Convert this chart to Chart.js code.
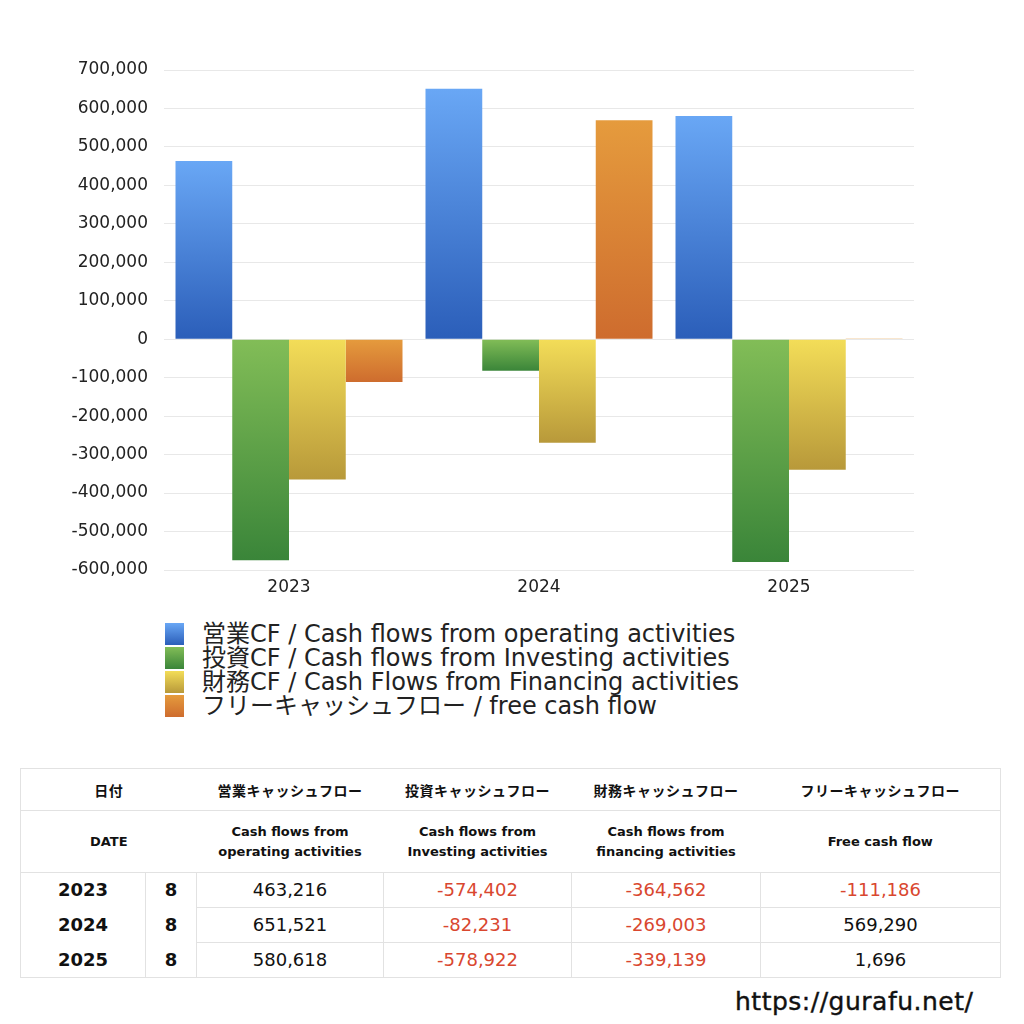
<!DOCTYPE html>
<html><head><meta charset="utf-8">
<script src="https://cdn.jsdelivr.net/npm/chart.js@4"></script>
<style>
html,body{margin:0;padding:0;background:#fff;width:1024px;height:1024px;overflow:hidden;font-family:"DejaVu Sans","Noto Sans CJK JP",sans-serif;}
#wrap{position:absolute;left:0;top:0;width:1024px;height:605px;}
#legend{position:absolute;left:165px;top:622px;font-size:24px;line-height:24px;color:#222;font-family:"DejaVu Sans","Noto Sans CJK JP",sans-serif;}
#legend .it{display:flex;align-items:center;height:24px;white-space:nowrap;}
#legend .sw{width:19px;height:22px;margin-right:18px;}
table{position:absolute;left:20px;top:768px;border-collapse:collapse;width:980px;table-layout:fixed;color:#111;border:1px solid #e2e2e2;}
td{padding:0;text-align:center;}
.h1 td{height:41px;font-size:14px;letter-spacing:0.5px;font-weight:bold;font-family:"Noto Sans CJK JP",sans-serif;border-bottom:1px solid #e2e2e2;}
.h2 td{height:61px;font-size:13px;font-weight:bold;line-height:20px;border-bottom:1px solid #e2e2e2;font-family:"DejaVu Sans",sans-serif;}
.d td{height:34px;font-size:18px;line-height:20px;}
.d td.n{border-left:1px solid #e2e2e2;border-bottom:1px solid #e2e2e2;}
.d td.y{font-weight:bold;font-size:18px;}
.d td.e{font-weight:bold;font-size:18px;border-left:1px solid #e2e2e2;}
.neg{color:#d9472f;}
#url{position:absolute;left:735px;top:987px;font-size:25px;letter-spacing:0.5px;font-family:"DejaVu Sans",sans-serif;color:#111;-webkit-text-stroke:0.4px #111;}
</style></head>
<body>
<div id="wrap"><canvas id="c"></canvas></div>
<div id="legend"></div>
<table id="tbl">
<colgroup><col style="width:125px"><col style="width:51px"><col style="width:187px"><col style="width:188px"><col style="width:189px"><col style="width:240px"></colgroup>
<tbody id="tb"></tbody>
</table>
<div id="url">https://gurafu.net/</div>
<script>
const categories = ["2023", "2024", "2025"];
const months = ["8", "8", "8"];
const operatingCF = [463216, 651521, 580618];
const investingCF = [-574402, -82231, -578922];
const financingCF = [-364562, -269003, -339139];
const freeCF = [-111186, 569290, 1696];
const seriesLabels = [
  "営業CF / Cash flows from operating activities",
  "投資CF / Cash flows from Investing activities",
  "財務CF / Cash Flows from Financing activities",
  "フリーキャッシュフロー / free cash flow"
];
const tableHeadJa = ["営業キャッシュフロー", "投資キャッシュフロー", "財務キャッシュフロー", "フリーキャッシュフロー"];
const tableHeadEn = ["Cash flows from<br>operating activities", "Cash flows from<br>Investing activities", "Cash flows from<br>financing activities", "Free cash flow"];
const yTicks = [700000, 600000, 500000, 400000, 300000, 200000, 100000, 0, -100000, -200000, -300000, -400000, -500000, -600000];

const gradStops = [
  ["#69a7f5", "#2b5eb9"],
  ["#82bd57", "#3a8539"],
  ["#f3dd58", "#b8993a"],
  ["#e59b3d", "#ce6c2e"]
];

function gradFor(i) {
  return function(ctx) {
    const chart = ctx.chart;
    const ys = chart.scales.y;
    if (!chart.chartArea || !ys || ctx.type !== 'data') return gradStops[i][0];
    const v = ctx.raw;
    const p1 = ys.getPixelForValue(v), p0 = ys.getPixelForValue(0);
    const top = Math.min(p0, p1), bot = Math.max(p0, p1);
    if (!isFinite(top) || bot - top < 0.5) return gradStops[i][1];
    const g = chart.ctx.createLinearGradient(0, top, 0, bot);
    g.addColorStop(0, gradStops[i][0]);
    g.addColorStop(1, gradStops[i][1]);
    return g;
  };
}

const allSeries = [operatingCF, investingCF, financingCF, freeCF];
const datasets = allSeries.map((d, i) => ({
  label: seriesLabels[i],
  data: d,
  backgroundColor: gradFor(i),
  borderWidth: 0,
  categoryPercentage: 0.908,
  barPercentage: 1.0
}));

new Chart(document.getElementById('c'), {
  type: 'bar',
  data: { labels: categories, datasets },
  options: {
    responsive: true,
    maintainAspectRatio: false,
    animation: false,
    layout: { padding: { left: 0, right: 110, top: 70, bottom: 0 } },
    plugins: { legend: { display: false }, tooltip: { enabled: false } },
    scales: {
      x: {
        grid: { display: false, drawTicks: false },
        border: { display: false },
        ticks: { color: '#222', font: { family: '"DejaVu Sans", sans-serif', size: 17 }, padding: 7 },
        afterFit(s) { s.height = 35; }
      },
      y: {
        min: -600000, max: 700000,
        afterBuildTicks(s) { s.ticks = yTicks.map(v => ({ value: v })); },
        grid: { color: '#e8e8e8', lineWidth: 1, drawTicks: false },
        border: { display: false },
        ticks: {
          color: '#222', padding: 16,
          font: { family: '"DejaVu Sans", sans-serif', size: 17 },
          callback: v => v.toLocaleString('en-US')
        },
        afterFit(s) { s.width = 164; }
      }
    }
  }
});

// legend
const lg = document.getElementById('legend');
seriesLabels.forEach((t, i) => {
  const it = document.createElement('div'); it.className = 'it';
  const sw = document.createElement('div'); sw.className = 'sw';
  sw.style.background = `linear-gradient(${gradStops[i][0]}, ${gradStops[i][1]})`;
  const tx = document.createElement('span'); tx.textContent = t;
  it.appendChild(sw); it.appendChild(tx); lg.appendChild(it);
});

// table
const fmt = v => v.toLocaleString('en-US');
let html = '<tr class="h1"><td colspan="2">日付</td>' + tableHeadJa.map(h => `<td>${h}</td>`).join('') + '</tr>';
html += '<tr class="h2"><td colspan="2">DATE</td>' + tableHeadEn.map(h => `<td>${h}</td>`).join('') + '</tr>';
categories.forEach((c, r) => {
  html += `<tr class="d"><td class="y">${c}</td><td class="e">${months[r]}</td>`;
  allSeries.forEach(s => {
    const v = s[r];
    html += `<td class="n${v < 0 ? ' neg' : ''}">${fmt(v)}</td>`;
  });
  html += '</tr>';
});
document.getElementById('tb').innerHTML = html;
</script>
</body></html>
